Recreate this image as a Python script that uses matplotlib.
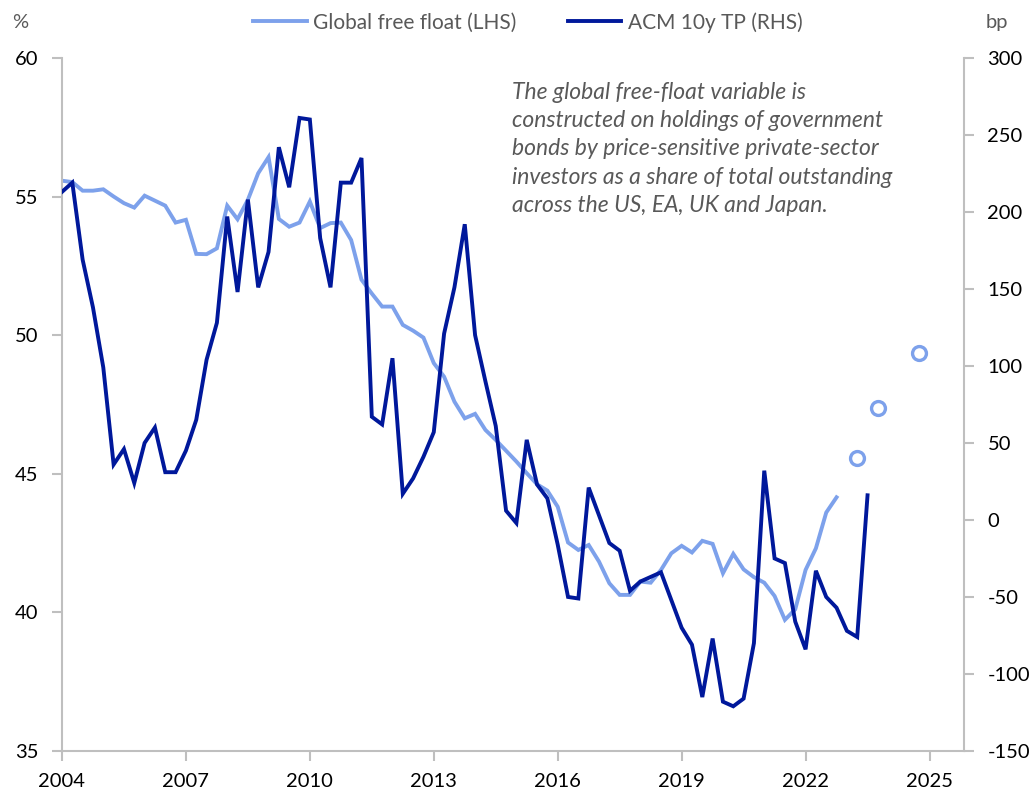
import matplotlib as mpl
mpl.use('Agg')
import matplotlib.pyplot as plt
import numpy as np

plt.rcParams['font.family'] = ['Lato', 'DejaVu Sans']
plt.rcParams['axes.unicode_minus'] = False

# quarterly data, first point is 2004Q1
start_year = 2004
free_float = [55.57, 55.52, 55.21, 55.21, 55.26, 55.0, 54.76, 54.6,
              55.03, 54.85, 54.67, 54.06, 54.16, 52.93, 52.92, 53.13,
              54.67, 54.18, 54.88, 55.84, 56.42, 54.19, 53.91, 54.06,
              54.82, 53.86, 54.04, 54.06, 53.43, 52.0, 51.5, 51.03,
              51.03, 50.37, 50.16, 49.91, 48.99, 48.5, 47.6, 47.0,
              47.16, 46.58, 46.22, 45.83, 45.44, 45.02, 44.62, 44.39,
              43.81, 42.52, 42.25, 42.43, 41.83, 41.05, 40.63, 40.63,
              41.11, 41.07, 41.53, 42.13, 42.4, 42.16, 42.58, 42.47,
              41.41, 42.11, 41.55, 41.27, 41.07, 40.59, 39.73, 40.11,
              41.53, 42.31, 43.6, 44.15]
acm_tp = [213, 219, 169, 138, 99, 36, 46, 24,
          50, 60, 31, 31, 45, 65, 104, 128,
          197, 148, 208, 151, 174, 242, 216, 261,
          260, 183, 151, 219, 219, 235, 67, 62,
          105, 17, 27, 41, 57, 121, 151, 192,
          120, 90, 61, 6, -2, 52, 23, 14,
          -16, -50, -51, 21, 3, -15, -20, -46,
          -40, -37, -34, -52, -70, -81, -115, -77,
          -118, -121, -116, -80, 32, -25, -28, -66,
          -84, -33, -50, -57, -72, -76, 16]
# projected free float points
proj_dates = [2023.25, 2023.75, 2024.75]
proj_values = [45.56, 47.38, 49.36]

ff_dates = start_year + np.arange(len(free_float)) / 4.0
tp_dates = start_year + np.arange(len(acm_tp)) / 4.0

light = '#7DA1EB'
dark = '#00189B'
grey = '#BFBFBF'

fig = plt.figure(figsize=(10.33, 7.93), dpi=100)
ax = fig.add_axes([0.060, 0.053, 0.873, 0.874])
ax2 = ax.twinx()

ax.plot(ff_dates, free_float, color=light, lw=2.8, solid_joinstyle='miter',
        label='Global free float (LHS)')
ax.plot(proj_dates, proj_values, ls='none', marker='o', ms=10, mfc='white',
        mec=light, mew=2.4)
ax2.plot(tp_dates, acm_tp, color=dark, lw=2.8, solid_joinstyle='miter',
         label='ACM 10y TP (RHS)')

ax.set_xlim(2004, 2025.83)
ax.set_ylim(35, 60)
ax2.set_ylim(-150, 300)
ax.set_xticks(range(2004, 2026, 3))
ax.set_yticks(range(35, 61, 5))
ax2.set_yticks(range(-150, 301, 50))

for a in (ax, ax2):
    for s in a.spines.values():
        s.set_color(grey)
        s.set_linewidth(1.5)
    a.spines['top'].set_visible(False)
    a.tick_params(colors=grey, labelcolor='black', labelsize=14.5,
                  length=7, width=1.5, direction='out')
ax.spines['right'].set_visible(False)
ax2.spines['left'].set_visible(False)
ax2.spines['bottom'].set_visible(False)
ax.tick_params(axis='y', pad=10)
ax2.tick_params(axis='y', pad=10)
ax.tick_params(axis='x', pad=9)

fig.text(0.012, 0.972, '%', fontsize=14.5, color='#595959', va='center')
fig.text(0.954, 0.972, 'bp', fontsize=14.5, color='#595959', va='center')

h1, l1 = ax.get_legend_handles_labels()
h2, l2 = ax2.get_legend_handles_labels()
fig.legend(h1 + h2, l1 + l2, loc='center', bbox_to_anchor=(0.511, 0.972),
           ncol=2, frameon=False, fontsize=15, labelcolor='#595959',
           handlelength=2.55, handletextpad=0.3, columnspacing=2.5)

ax.text(0.499, 0.965,
        'The global free-float variable is\n'
        'constructed on holdings of government\n'
        'bonds by price-sensitive private-sector\n'
        'investors as a share of total outstanding\n'
        'across the US, EA, UK and Japan.',
        transform=ax.transAxes, fontsize=16.5, style='italic',
        color='#595959', va='top', ha='left', linespacing=1.42)

fig.savefig('out.png', dpi=100)
